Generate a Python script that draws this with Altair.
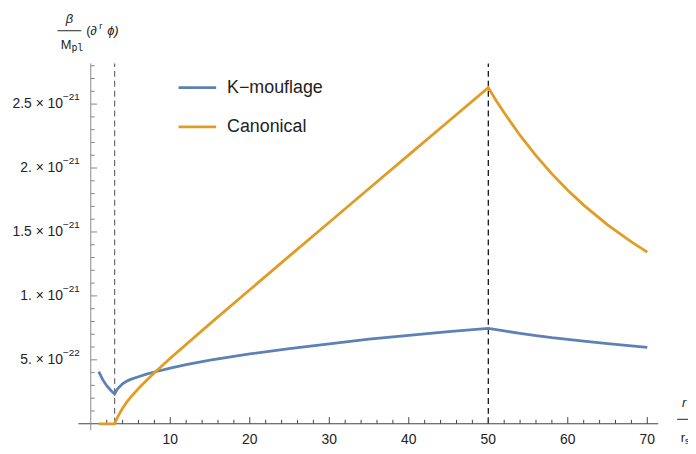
import altair as alt
import pandas as pd

# ---- data (values in units of 1e-21) ----
k_r = [1, 1.5, 2, 2.5, 3, 3.25, 3.5, 4, 4.5, 5, 6, 7, 8, 10, 12, 15, 20, 25, 30, 35, 40, 45, 50,
       51, 52, 54, 56, 58, 60, 62, 65, 68, 70]
k_val = [0.408, 0.345, 0.298, 0.262, 0.233, 0.262, 0.282, 0.313, 0.332, 0.347, 0.368, 0.388, 0.405,
         0.435, 0.462, 0.497, 0.546, 0.588, 0.625, 0.661, 0.692, 0.720, 0.746,
         0.736, 0.726, 0.707, 0.689, 0.673, 0.660, 0.646, 0.627, 0.609, 0.598]

c_r = [1, 2, 3, 3.1, 3.25, 3.5, 4, 4.5, 5, 6, 7, 8, 10, 15, 20, 25, 30, 35, 40, 45, 50,
       51, 52, 54, 56, 58, 60, 62, 65, 68, 70]
c_val = [0, 0, 0, 0.015, 0.036, 0.068, 0.122, 0.167, 0.206, 0.276, 0.339, 0.399, 0.512, 0.783,
         1.048, 1.313, 1.576, 1.840, 2.103, 2.366, 2.629,
         2.527, 2.432, 2.255, 2.097, 1.954, 1.826, 1.710, 1.556, 1.422, 1.342]

series_names = ["K\u2212mouflage", "Canonical"]
series_colors = ["#5E81B5", "#E19C24"]

marker_r = [3, 50]
marker_colors = ["#6a6a6a", "#000000"]

x_major = [10, 20, 30, 40, 50, 60, 70]
x_minor = [2, 4, 6, 8, 12, 14, 16, 18, 22, 24, 26, 28, 32, 34, 36, 38, 42, 44, 46, 48,
           52, 54, 56, 58, 62, 64, 66, 68]
x_labels = ["10", "20", "30", "40", "50", "60", "70"]

y_major = [0.5, 1.0, 1.5, 2.0, 2.5]
y_mantissa = ["5. \u00d7 10", "1. \u00d7 10", "1.5 \u00d7 10", "2. \u00d7 10", "2.5 \u00d7 10"]
y_exponent = ["\u221222", "\u221221", "\u221221", "\u221221", "\u221221"]
y_minor = [0.1, 0.2, 0.3, 0.4, 0.6, 0.7, 0.8, 0.9, 1.1, 1.2, 1.3, 1.4, 1.6, 1.7, 1.8, 1.9,
           2.1, 2.2, 2.3, 2.4, 2.6, 2.7, 2.8]

# ---- layout ----
W, H = 585, 370
XD = [-1.56, 71.38]
YD = [-0.0504, 2.818]
xs = alt.Scale(domain=XD, nice=False, zero=False)
ys = alt.Scale(domain=YD, nice=False, zero=False)
FONT = "Liberation Sans"
TXT = "#222222"


def X(f):
    return alt.X(f, type="quantitative", scale=xs, axis=None)


def Y(f):
    return alt.Y(f, type="quantitative", scale=ys, axis=None)


kdf = pd.DataFrame({"r": k_r, "v": k_val})
cdf = pd.DataFrame({"r": c_r, "v": c_val})
one = pd.DataFrame({"a": [0]})

k_line = alt.Chart(kdf).mark_line(color=series_colors[0], strokeWidth=2.8).encode(x=X("r"), y=Y("v"))
c_line = alt.Chart(cdf).mark_line(color=series_colors[1], strokeWidth=2.8).encode(x=X("r"), y=Y("v"))

mdf = pd.DataFrame({"r": marker_r, "col": marker_colors, "lo": 0.0, "hi": YD[1]})
markers = alt.Chart(mdf).mark_rule(strokeDash=[6, 4], strokeWidth=1.2).encode(
    x=X("r"), y=Y("lo"), y2="hi", color=alt.Color("col:N", scale=None))

x_axis = alt.Chart(one).mark_rule(color="#444444", strokeWidth=1).encode(
    x=alt.value(0), x2=alt.value(W), y=Y("a"))
y_axis = alt.Chart(one).mark_rule(color="#888888", strokeWidth=1).encode(
    x=X("a"), y=alt.value(0), y2=alt.value(H))

xt = pd.DataFrame({"t": x_major + x_minor,
                   "len": [0.052] * len(x_major) + [0.031] * len(x_minor)})
xt["z"] = 0.0
x_ticks = alt.Chart(xt).mark_rule(color="#444444").encode(x=X("t"), y=Y("z"), y2="len")
yt = pd.DataFrame({"t": y_major + y_minor,
                   "len": [0.8] * len(y_major) + [0.5] * len(y_minor)})
yt["z"] = 0.0
y_ticks = alt.Chart(yt).mark_rule(color="#888888").encode(y=Y("t"), x=X("z"), x2="len")

xl = pd.DataFrame({"t": x_major, "lab": x_labels})
xl["z"] = 0.0
x_lab = alt.Chart(xl).mark_text(font=FONT, fontSize=14, color=TXT, dy=16, baseline="middle").encode(
    x=X("t"), y=Y("z"), text="lab:N")

yl = pd.DataFrame({"t": y_major, "m": y_mantissa, "e": y_exponent})
yl["z"] = 0.0
y_man = alt.Chart(yl).mark_text(font=FONT, fontSize=14, color=TXT, align="right", dx=-28,
                                baseline="middle").encode(y=Y("t"), x=X("z"), text="m:N")
y_exp = alt.Chart(yl).mark_text(font=FONT, fontSize=10, color=TXT, align="left", dx=-28, dy=-7,
                                baseline="middle").encode(y=Y("t"), x=X("z"), text="e:N")

# legend
leg = []
for i, (nm, colr) in enumerate(zip(series_names, series_colors)):
    ly = 24.5 + 39.5 * i
    leg.append(alt.Chart(one).mark_rule(color=colr, strokeWidth=2.8).encode(
        x=alt.value(101), x2=alt.value(139), y=alt.value(ly)))
    leg.append(alt.Chart(one).mark_text(font=FONT, fontSize=18, color=TXT, align="left",
                                        baseline="middle", text=nm).encode(
        x=alt.value(150), y=alt.value(ly)))


def label(txt, x, y, size=13, align="center", style="normal", font=FONT, dy=0):
    return alt.Chart(one).mark_text(font=font, fontSize=size, fontStyle=style, color=TXT,
                                    align=align, baseline="middle", text=txt, dy=dy).encode(
        x=alt.value(x), y=alt.value(y))


def bar(x1, x2, y):
    return alt.Chart(one).mark_rule(color=TXT, strokeWidth=1).encode(
        x=alt.value(x1), x2=alt.value(x2), y=alt.value(y))


titles = [
    label("\u03b2", -9, -45, size=13, style="italic"),
    bar(-21, 3, -33),
    label("M", -7, -19, align="right"),
    label("pl", -7, -19, size=10, align="left", font="DejaVu Sans Mono", dy=3),
    label("(\u2202", 8, -33, align="left"),
    label("r", 21, -38, size=9, align="left"),
    label("\u03d5)", 29, -33, align="left", style="italic"),
    label("r", 611, 343, style="italic"),
    bar(604, 620, 359),
    label("r", 612, 378, align="right"),
    label("s", 612, 378, size=9, align="left", dy=3),
]

chart = alt.layer(
    markers, x_axis, y_axis, x_ticks, y_ticks, x_lab, y_man, y_exp,
    k_line, c_line, *leg, *titles
).properties(
    width=W, height=H,
    padding={"left": 71, "top": 54, "right": 30, "bottom": 14},
    autosize=alt.AutoSizeParams(type="none"),
).configure_view(stroke=None)

chart.save("out.html", embed_options={"renderer": "svg", "actions": False})
